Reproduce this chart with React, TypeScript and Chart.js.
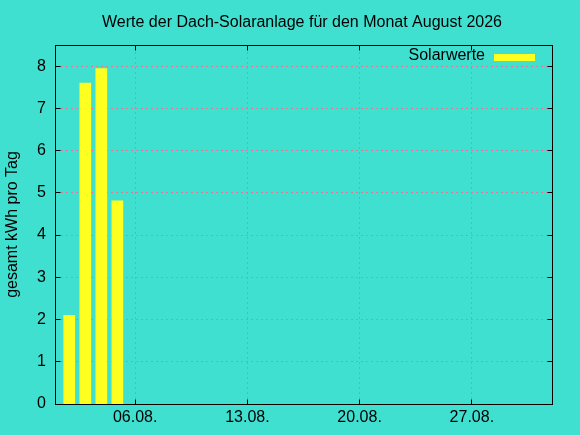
import React, { useEffect, useRef } from "react";
import { Chart, registerables } from "chart.js";

Chart.register(...registerables);

// ---- data ----
const TITLE = "Werte der Dach-Solaranlage für den Monat August 2026";
const Y_TITLE = "gesamt kWh pro Tag";
const SERIES_LABEL = "Solarwerte";
const DAYS = [2, 3, 4, 5];
const VALUES = [2.1, 7.6, 7.94, 4.81];
const X_TICK_DAYS = [6, 13, 20, 27];
const X_TICK_LABELS = ["06.08.", "13.08.", "20.08.", "27.08."];
const Y_TICKS = [0, 1, 2, 3, 4, 5, 6, 7, 8];
const X_MIN = 1;
const X_MAX = 32;
const Y_MIN = 0;
const Y_MAX = 8.5;

// ---- style ----
const BAR_SHIFT = -0.11; // bars sit slightly left of the date mark
const BG = "#40e0d0";
const BAR_COLOR = "#ffff20";
const GRID_COLOR = "#e07a92";
const FONT_FAMILY = "'Liberation Sans', Arial, Helvetica, sans-serif";
const FONT = { family: FONT_FAMILY, size: 16 };
const TICK_LEN = 5;
const DASH = 2;
const GAP = 3;

const px = (p: number) => Math.round(p - 0.5);

const decorPlugin = {
  id: "gnuplotDecor",
  beforeDraw(chart: any) {
    const { ctx, width, height } = chart;
    ctx.save();
    ctx.fillStyle = BG;
    ctx.fillRect(0, 0, width, height);
    ctx.restore();
  },
  beforeDatasetsDraw(chart: any) {
    const { ctx, chartArea: a, scales } = chart;
    const L = px(a.left);
    const R = px(a.right);
    const T = px(a.top);
    const B = px(a.bottom);
    ctx.save();
    ctx.fillStyle = GRID_COLOR;
    scales.x.ticks.forEach((t: any) => {
      const x = px(scales.x.getPixelForValue(t.value));
      for (let y = B - 1; y > T; y -= DASH + GAP) {
        ctx.fillRect(x, y - DASH + 1, 1, DASH);
      }
    });
    scales.y.ticks.forEach((t: any) => {
      if (t.value === Y_MIN) return;
      const y = px(scales.y.getPixelForValue(t.value));
      for (let x = L + 1; x < R; x += DASH + GAP) {
        ctx.fillRect(x, y, Math.min(DASH, R - x), 1);
      }
    });
    ctx.restore();
  },
  afterDraw(chart: any) {
    const { ctx, chartArea: a, scales } = chart;
    const L = px(a.left) + 0.5;
    const R = px(a.right) + 0.5;
    const T = px(a.top) + 0.5;
    const B = px(a.bottom) + 0.5;
    ctx.save();
    ctx.strokeStyle = "#000";
    ctx.lineWidth = 1;
    ctx.setLineDash([]);
    ctx.beginPath();
    scales.x.ticks.forEach((t: any) => {
      const x = px(scales.x.getPixelForValue(t.value)) + 0.5;
      ctx.moveTo(x, B);
      ctx.lineTo(x, B - TICK_LEN);
      ctx.moveTo(x, T);
      ctx.lineTo(x, T + TICK_LEN);
    });
    scales.y.ticks.forEach((t: any) => {
      const y = px(scales.y.getPixelForValue(t.value)) + 0.5;
      ctx.moveTo(L, y);
      ctx.lineTo(L + TICK_LEN, y);
      ctx.moveTo(R, y);
      ctx.lineTo(R - TICK_LEN, y);
    });
    ctx.stroke();
    ctx.strokeRect(L, T, R - L, B - T);

    // title
    ctx.fillStyle = "#000";
    ctx.font = `16px ${FONT_FAMILY}`;
    ctx.textAlign = "center";
    ctx.textBaseline = "alphabetic";
    ctx.fillText(TITLE, (a.left + a.right) / 2 - 1.5, 27);

    // y title
    ctx.save();
    ctx.translate(17, (a.top + a.bottom) / 2);
    ctx.rotate(-Math.PI / 2);
    ctx.textAlign = "center";
    ctx.fillText(Y_TITLE, 0, 0);
    ctx.restore();

    // legend
    const ds = chart.data.datasets[0];
    ctx.textAlign = "right";
    ctx.fillText(ds.label, 485, 60);
    ctx.fillStyle = ds.backgroundColor;
    ctx.fillRect(494, 54, 41, 7);
    ctx.restore();
  },
};

export default function App() {
  const ref = useRef<HTMLCanvasElement | null>(null);

  useEffect(() => {
    if (!ref.current) return;
    const chart = new Chart(ref.current, {
      type: "bar",
      data: {
        datasets: [
          {
            label: SERIES_LABEL,
            data: DAYS.map((d, i) => ({ x: d + BAR_SHIFT, y: VALUES[i] })),
            backgroundColor: BAR_COLOR,
            borderWidth: 0,
            barThickness: 11,
          } as any,
        ],
      },
      options: {
        animation: false,
        responsive: true,
        maintainAspectRatio: false,
        layout: { padding: { left: 0, top: 45, right: 28, bottom: 0 } },
        plugins: {
          legend: { display: false },
          title: { display: false },
          tooltip: { enabled: false },
        },
        scales: {
          x: {
            type: "linear",
            min: X_MIN,
            max: X_MAX,
            offset: false,
            afterBuildTicks: (s: any) => {
              s.ticks = X_TICK_DAYS.map((v) => ({ value: v }));
            },
            afterFit: (s: any) => {
              s.height = 31;
            },
            grid: { display: false, drawTicks: false, offset: false },
            border: { display: false },
            ticks: {
              padding: 4,
              font: FONT,
              color: "#000",
              maxRotation: 0,
              minRotation: 0,
              autoSkip: false,
              callback: (_v: any, i: number) => X_TICK_LABELS[i] ?? "",
            },
          },
          y: {
            type: "linear",
            min: Y_MIN,
            max: Y_MAX,
            afterBuildTicks: (s: any) => {
              s.ticks = Y_TICKS.map((v) => ({ value: v }));
            },
            afterFit: (s: any) => {
              s.width = 55;
            },
            grid: { display: false, drawTicks: false },
            border: { display: false },
            ticks: {
              padding: 9,
              font: FONT,
              color: "#000",
              callback: (v: any) => String(v),
            },
          },
        },
      } as any,
      plugins: [decorPlugin],
    });
    return () => chart.destroy();
  }, []);

  return (
    <div style={{ position: "fixed", left: 0, top: 0, width: 580, height: 435, background: BG }}>
      <canvas ref={ref} />
    </div>
  );
}
